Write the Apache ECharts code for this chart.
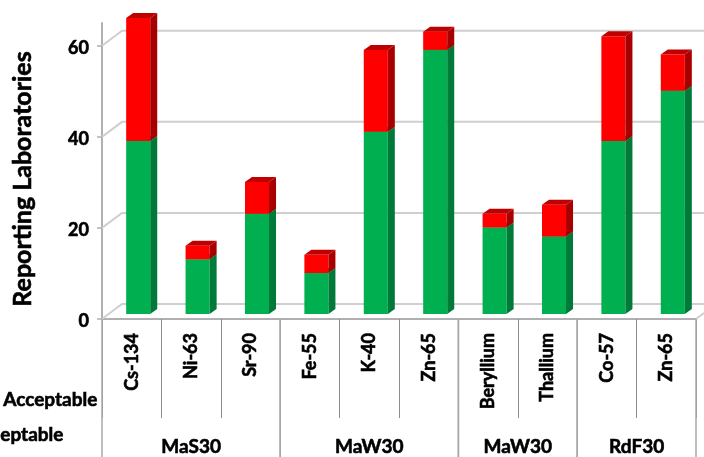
<!DOCTYPE html>
<html><head><meta charset="utf-8">
<style>html,body{margin:0;padding:0;background:#fff;overflow:hidden}#c{width:704px;height:457px}</style>
<script src="https://cdn.jsdelivr.net/npm/echarts@6/dist/echarts.min.js"></script>
</head><body><div id="c"></div>
<script>
var categories = ['Cs-134','Ni-63','Sr-90','Fe-55','K-40','Zn-65','Beryllium','Thallium','Co-57','Zn-65'];
var acceptable = [38,12,22,9,40,58,19,17,38,49];
var notAcceptable = [27,3,7,4,18,4,3,7,23,8];
var groupNames = ['MaS30','MaW30','MaW30','RdF30'];
var groupStart = [0,3,6,8];
var groupEnd = [2,5,7,9];
var yTicks = [0,20,40,60];

var font = 'Lato';
var gridColor = '#cfcfcf', axisColor = '#b0b0b0';
var wallDx = 20, wallDy = -15, barDx = 6.5, barDy = -5, sideDx = 7, sideDy = -5;
var heavy = 0.6;

function bar(front, side, top) {
  return function (params, api) {
    var i = api.value(0), lo = api.value(1), hi = api.value(2);
    var a = api.coord([i, lo]), b = api.coord([i, hi]);
    var w = api.size([1, 0])[0] * 0.405;
    var l = a[0] - w / 2 + barDx, r = l + w, yb = a[1] + barDy, yt = b[1] + barDy;
    return { type: 'group', children: [
      { type: 'rect', shape: { x: l, y: yt, width: w, height: yb - yt }, style: { fill: front } },
      { type: 'polygon', shape: { points: [[r, yb],[r + sideDx, yb + sideDy],[r + sideDx, yt + sideDy],[r, yt]] }, style: { fill: side } },
      { type: 'polygon', shape: { points: [[l, yt],[l + sideDx, yt + sideDy],[r + sideDx, yt + sideDy],[r, yt]] }, style: { fill: top } }
    ]};
  };
}
var option = {
  animation: false,
  grid: { left: 102, right: 8, top: 23, bottom: 138 },
  xAxis: {
    type: 'category', data: categories,
    axisLine: { lineStyle: { color: axisColor, width: 2 } },
    axisTick: { show: true, length: 99, alignWithLabel: false, lineStyle: { color: '#8c8c8c', width: 1 } },
    axisLabel: { interval: 0, rotate: 90, margin: 14, color: '#000', fontFamily: font, fontWeight: 'bold', fontSize: 18, textBorderColor: '#000', textBorderWidth: heavy }
  },
  yAxis: {
    type: 'value', min: 0, max: 65, interval: 20,
    name: 'Reporting Laboratories', nameLocation: 'middle', nameGap: 67, nameRotate: 90,
    nameTextStyle: { color: '#000', fontFamily: font, fontWeight: 'bold', fontSize: 25, padding: [0, 16, 0, 0], textBorderColor: '#000', textBorderWidth: heavy },
    axisLine: { show: true, lineStyle: { color: axisColor, width: 2 } },
    axisTick: { show: true, length: 5, lineStyle: { color: axisColor, width: 1.5 }, customValues: yTicks },
    axisLabel: { color: '#000', fontFamily: font, fontWeight: 'bold', fontSize: 18, margin: 13, verticalAlign: 'top', lineHeight: 5, customValues: yTicks, textBorderColor: '#000', textBorderWidth: heavy },
    splitLine: { show: false }
  },
  graphic: [
    { type: 'text', left: 3, top: 390, style: { text: 'Acceptable', fill: '#000', font: 'bold 19px ' + font, stroke: '#000', lineWidth: heavy } },
    { type: 'text', left: 0, top: 425, style: { text: 'eptable', fill: '#000', font: 'bold 19px ' + font, stroke: '#000', lineWidth: heavy } }
  ],
  series: [
    { type: 'custom', silent: true, z: 1,
      data: yTicks.map(function (v) { return [0, v]; }),
      encode: { x: 0, y: 1 },
      renderItem: function (params, api) {
        var p = api.coord([0, api.value(1)]), q = api.coord([categories.length - 1, api.value(1)]);
        var half = api.size([1, 0])[0] / 2;
        var x0 = p[0] - half, x1 = q[0] + half, y = p[1];
        var st = { stroke: gridColor, lineWidth: 2, fill: null };
        var kids = [
          { type: 'polyline', shape: { points: [[x0, y],[x0 + wallDx, y + wallDy],[704, y + wallDy]] }, style: st }
        ];
        if (api.value(1) === 0) {
          kids.push({ type: 'line', shape: { x1: x1, y1: y, x2: 704, y2: y + (704 - x1) * wallDy / wallDx }, style: st });
        }
        return { type: 'group', children: kids };
      } },
    { type: 'custom', silent: true, z: 3, name: 'Acceptable',
      data: acceptable.map(function (v, i) { return [i, 0, v]; }),
      encode: { x: 0, y: [1, 2] },
      renderItem: bar('#00B050', '#007A38', '#00B050') },
    { type: 'custom', silent: true, z: 3, name: 'Not Acceptable',
      data: acceptable.map(function (v, i) { return [i, v, v + notAcceptable[i]]; }),
      encode: { x: 0, y: [1, 2] },
      renderItem: bar('#FF0000', '#A80000', '#C00000') },
    { type: 'custom', silent: true, z: 2,
      data: groupNames.map(function (n, i) { return [groupStart[i], groupEnd[i], 0]; }),
      encode: { x: [0, 1], y: 2 },
      renderItem: function (params, api) {
        var half = api.size([1, 0])[0] / 2;
        var a = api.coord([api.value(0), 0]), b = api.coord([api.value(1), 0]);
        var l = a[0] - half, r = b[0] + half, y = a[1];
        var st = { stroke: '#a8a8a8', lineWidth: 1.5 };
        return { type: 'group', children: [
          { type: 'line', shape: { x1: l, y1: y, x2: l, y2: 457 }, style: st },
          { type: 'line', shape: { x1: r, y1: y, x2: r, y2: 457 }, style: st },
          { type: 'text', style: { x: (l + r) / 2, y: y + 128, text: groupNames[params.dataIndex], fill: '#000',
            font: 'bold 19px ' + font, align: 'center', verticalAlign: 'middle', stroke: '#000', lineWidth: heavy } }
        ]};
      } }
  ]
};
var chart = echarts.init(document.getElementById('c'), null, { renderer: 'canvas', width: 704, height: 457 });
chart.setOption(option);
</script></body></html>
